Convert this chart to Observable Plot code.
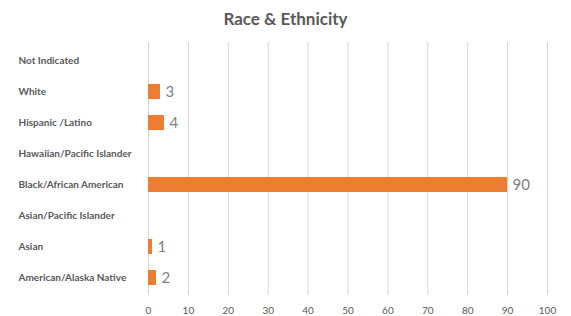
<!DOCTYPE html>
<html><head><meta charset="utf-8">
<script src="https://cdn.jsdelivr.net/npm/d3@7"></script>
<script src="https://cdn.jsdelivr.net/npm/@observablehq/plot@0.6"></script>
<style>
body{margin:0;background:#fff;width:571px;height:316px;overflow:hidden;font-family:Lato,"Open Sans",sans-serif;}
#title{height:36px;line-height:38px;text-align:center;font-size:17px;font-weight:bold;color:#595959;}
</style></head>
<body>
<div id="title">Race &amp; Ethnicity</div>
<div id="chart"></div>
<script>
const categories = ["Not Indicated","White","Hispanic /Latino","Hawaiian/Pacific Islander","Black/African American","Asian/Pacific Islander","Asian","American/Alaska Native"];
const values = [null, 3, 4, null, 90, null, 1, 2];
const xTicks = [0,10,20,30,40,50,60,70,80,90,100];
const data = categories.map((c,i)=>({category:c, value:values[i]}));
const bars = data.filter(d=>d.value!=null);
const chart = Plot.plot({
  width:571, height:280,
  marginTop:6, marginBottom:21, marginLeft:148, marginRight:24,
  style:{fontFamily:"Lato, 'Open Sans', sans-serif", background:"#fff"},
  x:{domain:[0,100], ticks:xTicks, label:null},
  y:{domain:categories, paddingInner:0.52, paddingOuter:0.27, label:null, axis:null},
  marks:[
    Plot.ruleX(xTicks, {stroke:"#d4d4d4", strokeWidth:1}),
    Plot.axisX({ticks:xTicks, tickSize:0, tickPadding:11, fontSize:10, fill:"#595959", label:null}),
    Plot.barX(bars, {x:"value", y:"category", fill:"#ed7d31"}),
    Plot.text(bars, {x:"value", y:"category", text:d=>String(d.value), textAnchor:"start", dx:5, fontSize:15, fill:"#7f7f7f"}),
    Plot.text(data, {y:"category", text:"category", frameAnchor:"left", dx:-130, textAnchor:"start", fontSize:10, fontWeight:"bold", fill:"#595959"})
  ]
});
document.getElementById("chart").appendChild(chart);
</script>
</body></html>
